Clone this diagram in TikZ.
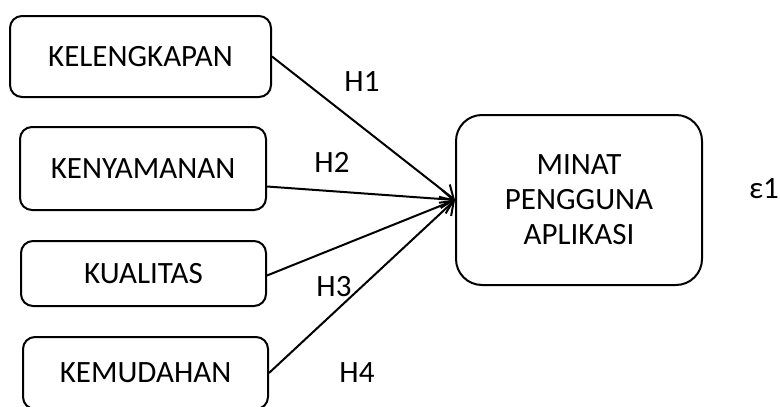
\documentclass[tikz,border=0pt]{standalone}
\usepackage{fontspec}
\setmainfont{Carlito}
\usetikzlibrary{arrows.meta}
\begin{document}
\begin{tikzpicture}[x=1pt,y=-1pt,
  box/.style={draw,line width=2pt,rounded corners=12pt,align=center,inner sep=0pt,font=\fontsize{31}{35}\selectfont},
  conn/.style={line width=2pt,-{Straight Barb[length=12pt,width=18pt,line width=2pt]}},
  lbl/.style={font=\fontsize{31}{35}\selectfont,inner sep=0pt}]
\useasboundingbox (0,0) rectangle (780,407);
\node[box,minimum width=261pt,minimum height=81pt] (a) at (140.5,56.5) {KELENGKAPAN};
\node[box,minimum width=246pt,minimum height=83pt] (b) at (143,168.5) {KENYAMANAN};
\node[box,minimum width=245pt,minimum height=65pt] (c) at (143.5,273.5) {KUALITAS};
\node[box,minimum width=245pt,minimum height=72pt] (d) at (145.5,373) {KEMUDAHAN};
\node[box,rounded corners=26pt,minimum width=246pt,minimum height=170pt] (m) at (579,200) {MINAT\\PENGGUNA\\APLIKASI};
\node[lbl] (h1) at (362,82) {H1};
\node[lbl] (h2) at (332,162) {H2};
\node[lbl] (h3) at (334,287) {H3};
\node[lbl] (h4) at (357,373) {H4};
\node[lbl] (e) at (764,189) {ε1};
\draw[conn] (a.east) -- (m.west);
\draw[conn] ([yshift=-18pt]b.east) -- (m.west);
\draw[conn] ([yshift=-2pt]c.east) -- (m.west);
\draw[conn] (d.east) -- (m.west);
\end{tikzpicture}
\end{document}
